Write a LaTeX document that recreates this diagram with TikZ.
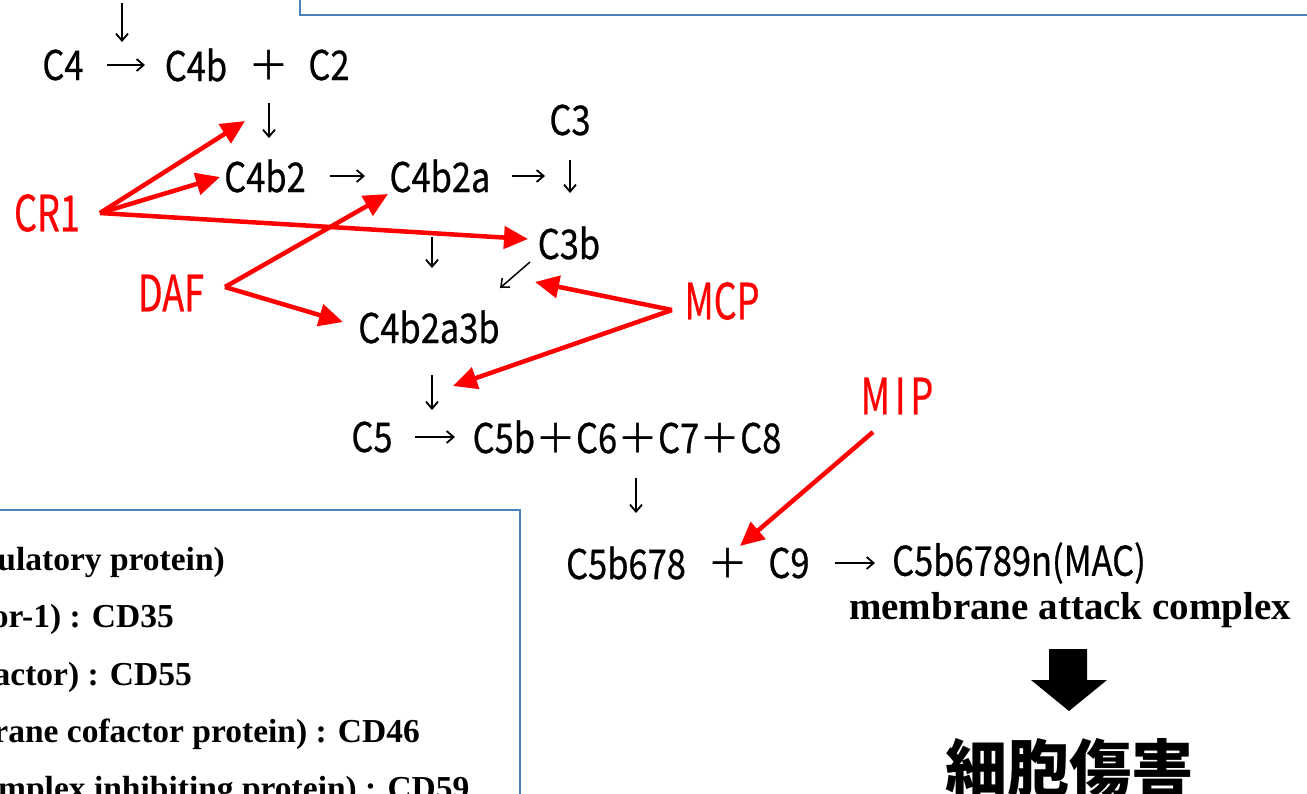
\documentclass[tikz,border=0pt]{standalone}
\usepackage{fontspec}
\usetikzlibrary{arrows.meta,calc}
\newfontfamily\goth[FakeStretch=0.84,FakeBold=0.6]{Noto Sans CJK JP}
\newfontfamily\gothfw{Noto Sans CJK JP}
\newfontfamily\redf[FakeStretch=0.72,FakeBold=0.5]{Noto Sans CJK JP}
\newfontfamily\jp{Noto Sans CJK JP}
\newfontfamily\serf{Liberation Serif}
\definecolor{boxblue}{RGB}{79,129,189}
\tikzset{
  g/.style={inner sep=0pt, font=\goth\fontsize{41}{41}\selectfont},
  rl/.style={inner sep=0pt, text=red, font=\redf\fontsize{50}{50}\selectfont},
  blk/.style={line width=1.8pt, -{Straight Barb[length=7pt,width=12pt]}},
  rarr/.style={draw=red, line width=4.5pt, -{Triangle[length=24pt,width=22pt]}},
  boxb/.style={draw=boxblue, line width=2pt},
  sertext/.style={inner sep=0pt, font=\serf\bfseries\fontsize{33.5}{33.5}\selectfont},
}
\begin{document}
\begin{tikzpicture}[x=1pt,y=-1pt]
\useasboundingbox (0,0) rectangle (1307,793);
\clip (0,0) rectangle (1307,793);
\fill[white] (0,0) rectangle (1307,793);

% boxes
\draw[boxb] (300,-20) rectangle (1330,15);
\draw[boxb] (-20,510) rectangle (520,820);

% legend (partly cut off)
\node[sertext, anchor=base east] (L1) at (225,570) {ulatory protein)};
\node[sertext, anchor=base east] (L2) at (174,627) {or-1) : CD35};
\node[sertext, anchor=base east] (L3) at (192,685) {actor) : CD55};
\node[sertext, anchor=base east] (L4) at (420,742) {rane cofactor protein) : CD46};
\node[sertext, anchor=base west] (L5) at (-2,799) {mplex inhibiting protein) : CD59};

% black text nodes
\node[g] (C4) at (63,65) {C4};
\node[g] (C4b) at (196,65) {C4b};
\node[g] (plusA) at (269,65) {\gothfw ＋};
\node[g] (C2) at (329,65) {C2};
\node[g] (C3) at (570,120) {C3};
\node[g] (C4b2) at (265,176) {C4b2};
\node[g] (C4b2a) at (440,176) {C4b2a};
\node[g] (C3b) at (569,243) {C3b};
\node[g] (C4b2a3b) at (429,327) {C4b2a3b};
\node[g] (C5) at (372,437) {C5};
\node[g] (C5bs) at (627,437) {C5b{\gothfw ＋}C6{\gothfw ＋}C7{\gothfw ＋}C8};
\node[g] (C5b678) at (626,563) {C5b678};
\node[g] (plusB) at (728,563) {\gothfw ＋};
\node[g] (C9) at (789,563) {C9};
\node[g] (MAC) at (1019,563) {C5b6789n(MAC)};
\node[sertext, font=\serf\bfseries\fontsize{39}{39}\selectfont] (mac) at (1070,610) {membrane attack complex};
\node[inner sep=0pt, font=\jp\bfseries\fontsize{62}{62}\selectfont] (lysis) at (1069,768) {細胞傷害};

% red labels
\node[rl] (CR1) at (47,213) {CR1};
\node[rl] (DAF) at (171,293) {DAF};
\node[rl] (MCP) at (722,301) {MCP};
\node[rl] (MIP) at (897,396) {M\hspace{5pt}I\hspace{5pt}P};

% black connectors
\coordinate (C1in) at (122,3);
\draw[blk, shorten >=23pt] (C1in) -- (C1in |- C4.center);
\draw[blk, shorten <=44pt, shorten >=51pt] (C4.center) -- (C4b.center);
\draw[blk, shorten <=38pt, shorten >=38pt] (plusA.center) -- (plusA.center |- C4b2.center);
\draw[blk, shorten <=65pt, shorten >=75pt] (C4b2.center) -- (C4b2a.center);
\draw[blk, shorten <=72pt, shorten >=25pt] (C4b2a.center) -- (C4b2a.center -| C3.center);
\draw[blk, shorten <=40pt, shorten >=50pt] (C3.center) -- (C3.center |- C3b.center);
\draw[blk, shorten <=61pt, shorten >=59pt] ($(C4b2a3b.center |- C4b2a.center)+(3,0)$) -- ($(C4b2a3b.center)+(3,0)$);
\coordinate (dgA) at (530,262);
\coordinate (dgB) at (500,288);
\draw[blk, line width=1.5pt] (dgA) -- (dgB);
\draw[blk, shorten <=48pt, shorten >=27pt] ($(C4b2a3b.center)+(3,0)$) -- ($(C4b2a3b.center |- C5.center)+(3,0)$);
\draw[blk, shorten <=43pt, shorten >=172pt] (C5.center) -- (C5bs.center);
\draw[blk, shorten <=41pt, shorten >=50pt] ($(C5bs.center)+(9,0)$) -- ($(C5bs.center |- C5b678.center)+(9,0)$);
\draw[blk, shorten <=46pt, shorten >=144pt] (C9.center) -- (MAC.center);

% big arrow
\fill (1049,649) -- (1087,649) -- (1087,680) -- (1107,680) -- (1069,711) -- (1031,680) -- (1049,680) -- cycle;

% red arrows
\coordinate (cr1o) at (100,213);
\coordinate (dafo) at (225,287);
\coordinate (mcpo) at (672,310);
\coordinate (mipo) at (873,432);
\coordinate (tA) at (245,121);
\coordinate (tB) at (220,177);
\coordinate (tC) at (528,239);
\coordinate (tD) at (388,194);
\coordinate (tE) at (343,322);
\coordinate (tF) at (535,282);
\coordinate (tG) at (453,386);
\coordinate (tH) at (740,546);
\draw[rarr] (cr1o) -- (tA);
\draw[rarr] (cr1o) -- (tB);
\draw[rarr] (cr1o) -- (tC);
\draw[rarr] (dafo) -- (tD);
\draw[rarr] (dafo) -- (tE);
\draw[rarr] (mcpo) -- (tF);
\draw[rarr] (mcpo) -- (tG);
\draw[rarr] (mipo) -- (tH);
\end{tikzpicture}
\end{document}
